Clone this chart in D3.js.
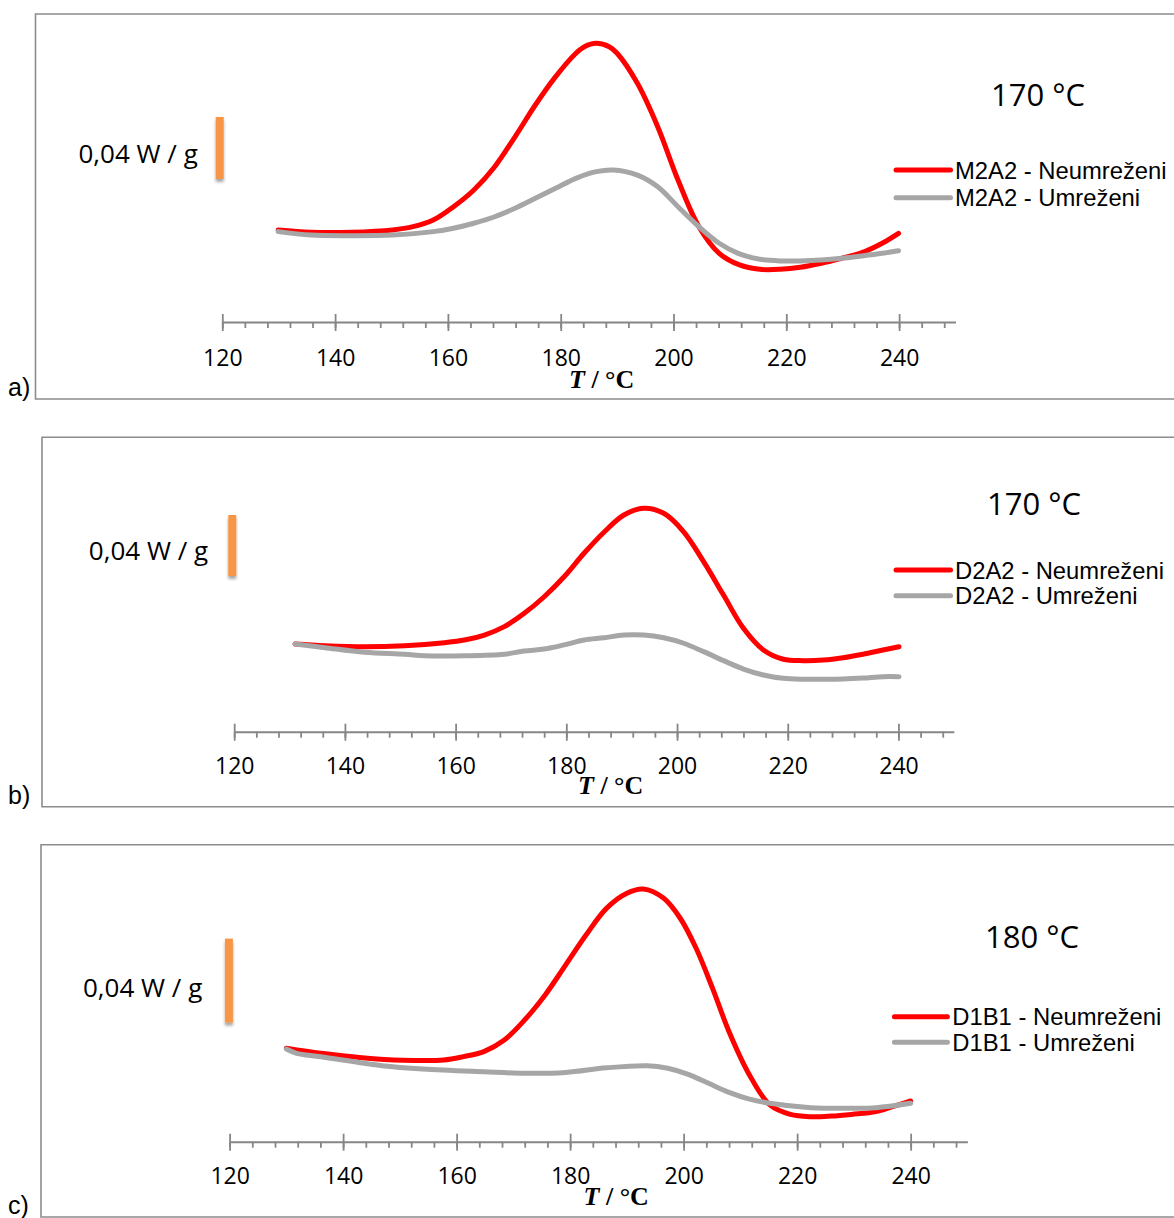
<!DOCTYPE html>
<html><head><meta charset="utf-8">
<script src="https://cdn.jsdelivr.net/npm/d3@7"></script>
<style>body{margin:0;background:#fff}</style>
</head><body>
<script>
// ---------- data ----------
const tickLabels = [120, 140, 160, 180, 200, 220, 240];
const minorTicks = [120,124,128,132,136,140,144,148,152,156,160,164,168,172,176,180,184,188,192,196,200,204,208,212,216,220,224,228,232,236,240,244,248];
const scaleBarValue = 0.04; // W/g
const scaleBarText = "0,04 W / g";

const namesA = ["M2A2 - Neumreženi", "M2A2 - Umreženi"];
const namesB = ["D2A2 - Neumreženi", "D2A2 - Umreženi"];
const namesC = ["D1B1 - Neumreženi", "D1B1 - Umreženi"];
const curingTemps = ["170 °C", "170 °C", "180 °C"];
const panelLabels = ["a)", "b)", "c)"];

// heat flow (W/g, relative) vs T (°C)
const M2A2_neumrezeni = [[129.9,0.0594],[135.7,0.0579],[142.9,0.0579],[150.2,0.0594],[153.8,0.0615],[157.4,0.0658],[161.0,0.0744],[164.6,0.0852],[168.3,0.1002],[171.9,0.1195],[175.5,0.1400],[179.1,0.1583],[182.7,0.1734],[184.2,0.1776],[186.3,0.1798],[188.6,0.1776],[190.0,0.1734],[193.6,0.1540],[197.2,0.1260],[200.8,0.0916],[204.5,0.0615],[208.1,0.0443],[211.7,0.0368],[215.3,0.0340],[218.9,0.0340],[222.5,0.0353],[226.2,0.0379],[229.8,0.0411],[233.4,0.0447],[237.0,0.0508],[239.9,0.0572]];
const M2A2_umrezeni = [[129.9,0.0583],[135.7,0.0561],[142.9,0.0557],[150.2,0.0561],[157.4,0.0583],[161.0,0.0605],[164.6,0.0637],[168.3,0.0679],[171.9,0.0734],[175.5,0.0798],[179.1,0.0863],[182.7,0.0927],[186.3,0.0970],[189.3,0.0981],[193.6,0.0948],[197.2,0.0873],[200.8,0.0744],[204.5,0.0615],[208.1,0.0508],[211.7,0.0439],[215.3,0.0405],[218.9,0.0394],[222.5,0.0394],[226.2,0.0400],[229.8,0.0411],[233.4,0.0426],[237.0,0.0443],[239.9,0.0460]];
const D2A2_neumrezeni = [[131.0,0.0575],[136.4,0.0564],[143.6,0.0557],[150.8,0.0564],[158.0,0.0584],[161.6,0.0601],[165.2,0.0634],[168.8,0.0689],[172.4,0.0776],[176.0,0.0885],[179.6,0.1016],[183.2,0.1170],[186.8,0.1308],[190.4,0.1421],[194.0,0.1465],[197.6,0.1432],[201.2,0.1311],[204.8,0.1115],[208.4,0.0896],[212.0,0.0678],[215.6,0.0536],[219.2,0.0475],[222.8,0.0466],[226.4,0.0470],[230.0,0.0485],[233.6,0.0508],[237.2,0.0536],[240.1,0.0557]];
const D2A2_umrezeni = [[131.0,0.0575],[136.4,0.0551],[143.6,0.0521],[150.8,0.0508],[154.4,0.0498],[161.6,0.0498],[168.8,0.0508],[172.4,0.0529],[176.0,0.0542],[179.6,0.0569],[183.2,0.0601],[186.8,0.0616],[190.4,0.0634],[194.0,0.0634],[197.6,0.0616],[201.2,0.0580],[204.8,0.0525],[208.4,0.0466],[212.0,0.0411],[215.6,0.0372],[219.2,0.0350],[222.8,0.0344],[226.4,0.0344],[230.0,0.0346],[233.6,0.0352],[237.2,0.0361],[240.1,0.0361]];
const D1B1_neumrezeni = [[130.0,0.0445],[136.1,0.0421],[143.3,0.0400],[150.5,0.0388],[157.7,0.0389],[161.2,0.0405],[164.8,0.0429],[168.4,0.0484],[172.0,0.0580],[175.6,0.0699],[179.2,0.0841],[182.8,0.0984],[186.4,0.1111],[190.0,0.1183],[192.9,0.1203],[196.5,0.1159],[199.4,0.1064],[202.2,0.0921],[205.1,0.0730],[208.0,0.0524],[211.6,0.0318],[215.2,0.0175],[218.8,0.0130],[222.4,0.0119],[226.0,0.0122],[229.6,0.0130],[233.9,0.0143],[236.8,0.0167],[240.0,0.0194]];
const D1B1_umrezeni = [[130.0,0.0441],[131.8,0.0421],[136.1,0.0405],[146.9,0.0362],[154.1,0.0346],[164.8,0.0333],[172.0,0.0326],[179.2,0.0330],[186.4,0.0352],[193.6,0.0362],[197.2,0.0350],[200.8,0.0321],[204.4,0.0278],[208.0,0.0235],[211.6,0.0203],[215.2,0.0183],[222.4,0.0162],[229.6,0.0159],[233.9,0.0162],[240.0,0.0183]];
// value (W/g) at the lower end of each scale bar
const scaleBarBase = [0.0923, 0.1021, 0.0567];

const seriesColors = ["#FF0000", "#A6A6A6"];

// ---------- layout ----------
const layout = [
  {frameX:35.5, top:14, bottom:399, r0:222.3, r1:955.5, axisY:322, pxPerUnit:1550, barX:219.7,
   scaleTextX:78.5, scaleTextY:163, labelY:396, tempX:991, tempY:106, legX1:896, legX2:950.5, legTextX:955, legY:[170,197.7], titleX:569, titleY:388, tickY:43.5},
  {frameX:42, top:437.3, bottom:806.7, r0:234.2, r1:953.8, axisY:731.7, pxPerUnit:1525, barX:232.3,
   scaleTextX:88.8, scaleTextY:560, labelY:804, tempX:987, tempY:515, legX1:896, legX2:950.5, legTextX:955, legY:[570,595.7], titleX:578, titleY:794, tickY:42.3},
  {frameX:41, top:844.7, bottom:1217, r0:229.6, r1:967.4, axisY:1141.7, pxPerUnit:2100, barX:228.9,
   scaleTextX:83, scaleTextY:996.7, labelY:1214, tempX:985, tempY:948, legX1:894.4, legX2:947.4, legTextX:952.3, legY:[1016.7,1042.3], titleX:583.6, titleY:1205, tickY:42.3}
];
const panelSeries = [[M2A2_neumrezeni, M2A2_umrezeni],[D2A2_neumrezeni, D2A2_umrezeni],[D1B1_neumrezeni, D1B1_umrezeni]];
const panelNames = [namesA, namesB, namesC];

const svg = d3.select("body").append("svg").attr("width",1174).attr("height",1218);
const defs = svg.append("defs");
const f = defs.append("filter").attr("id","sh").attr("x","-100%").attr("y","-20%").attr("width","300%").attr("height","150%");
f.append("feDropShadow").attr("dx",0).attr("dy",3).attr("stdDeviation",1.5).attr("flood-color","#000").attr("flood-opacity",0.35);

const axisColor = "#868686";

layout.forEach((p, i) => {
  const g = svg.append("g");
  const x = d3.scaleLinear().domain([120, 250]).range([p.r0, p.r1]);
  const y = d3.scaleLinear().domain([0, scaleBarValue]).range([p.axisY, p.axisY - scaleBarValue * p.pxPerUnit]);

  // frame (open on the right)
  g.append("path").attr("d", `M1180,${p.top}H${p.frameX}V${p.bottom}H1180`)
    .attr("fill","none").attr("stroke","#8c8c8c").attr("stroke-width",1.6);

  g.append("text").attr("x",8).attr("y",p.labelY).text(panelLabels[i])
    .attr("font-family","Liberation Sans, Arial, sans-serif").attr("font-size",25).attr("fill","#000");

  // axis: minor ticks
  const gMin = g.append("g").attr("transform",`translate(0,${p.axisY})`)
    .call(d3.axisBottom(x).tickValues(minorTicks).tickSizeInner(6).tickSizeOuter(0).tickFormat(""));
  gMin.select(".domain").attr("stroke",axisColor).attr("stroke-width",2);
  gMin.selectAll(".tick line").attr("stroke",axisColor).attr("stroke-width",1.8);
  // major ticks + labels
  const gMaj = g.append("g").attr("transform",`translate(0,${p.axisY})`)
    .call(d3.axisBottom(x).tickValues(tickLabels).tickSize(9).tickFormat(d3.format("d")));
  gMaj.select(".domain").remove();
  gMaj.selectAll(".tick line").attr("y1",-8).attr("stroke",axisColor).attr("stroke-width",1.8);
  gMaj.selectAll(".tick text").attr("y",p.tickY).attr("dy",null).attr("fill","#000")
    .attr("font-family","Open Sans, sans-serif").attr("font-size",23);

  // axis title
  const t = g.append("text").attr("x",p.titleX).attr("y",p.titleY)
    .attr("font-family","Liberation Serif, Times New Roman, serif").attr("font-size",26).attr("font-weight","bold").attr("fill","#000");
  t.append("tspan").attr("font-style","italic").text("T");
  t.append("tspan").text(" / °C");

  // curves
  const line = d3.line().x(d => x(d[0])).y(d => y(d[1])).curve(d3.curveCatmullRom.alpha(0.5));
  panelSeries[i].forEach((s, j) => {
    g.append("path").datum(s).attr("d", line).attr("fill","none")
      .attr("stroke", seriesColors[j]).attr("stroke-width",5).attr("stroke-linecap","round").attr("stroke-linejoin","round");
  });

  // scale bar
  g.append("rect").attr("x",p.barX - 4).attr("width",8)
    .attr("y", y(scaleBarBase[i] + scaleBarValue)).attr("height", y(scaleBarBase[i]) - y(scaleBarBase[i] + scaleBarValue))
    .attr("fill","#F79646").attr("filter","url(#sh)");
  g.append("text").attr("x",p.scaleTextX).attr("y",p.scaleTextY).text(scaleBarText)
    .attr("font-family","Open Sans, sans-serif").attr("font-size",26).attr("fill","#000");

  // curing temperature
  g.append("text").attr("x",p.tempX).attr("y",p.tempY).text(curingTemps[i])
    .attr("font-family","Open Sans, sans-serif").attr("font-size",31).attr("fill","#000");

  // legend
  panelNames[i].forEach((n, j) => {
    g.append("line").attr("x1",p.legX1).attr("x2",p.legX2).attr("y1",p.legY[j]).attr("y2",p.legY[j])
      .attr("stroke",seriesColors[j]).attr("stroke-width",5).attr("stroke-linecap","round");
    g.append("text").attr("x",p.legTextX).attr("y",p.legY[j] + 8.5).text(n)
      .attr("font-family","Liberation Sans, Arial, sans-serif").attr("font-size",23.8).attr("fill","#000");
  });
});
</script>
</body></html>
